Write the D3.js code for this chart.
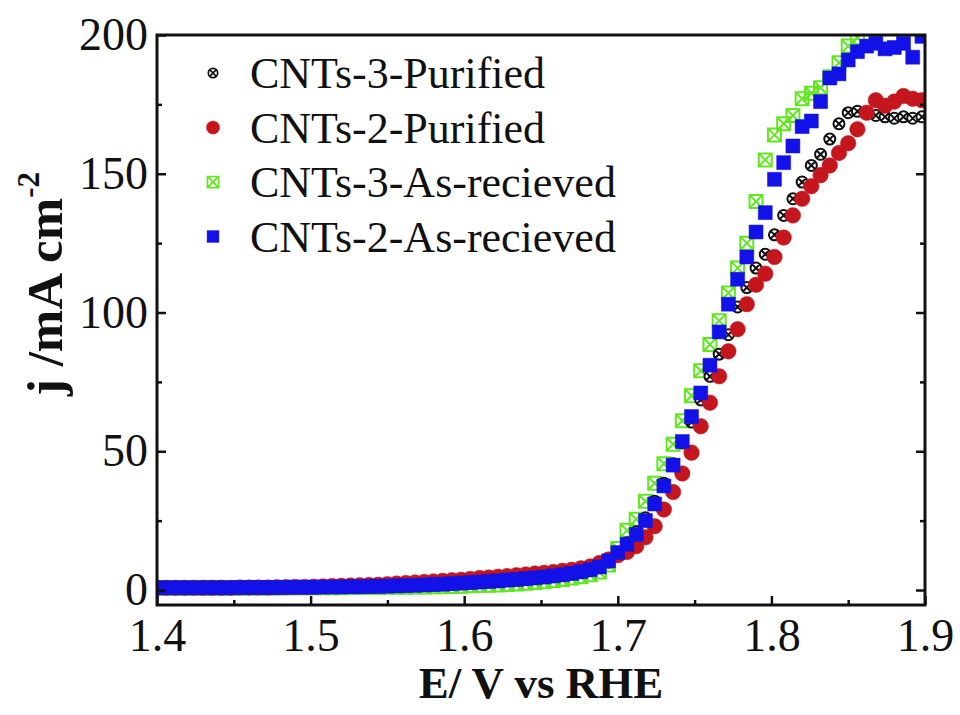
<!DOCTYPE html>
<html lang="en">
<head>
<meta charset="UTF-8" />
<title>LSV CNTs</title>
<style>
  body { margin: 0; background: #fff; }
  svg { display: block; font-family: "Liberation Serif", "Times New Roman", serif; }
</style>
</head>
<body>
<svg id="chart" width="960" height="715"></svg>
<script src="https://d3js.org/d3.v7.min.js"></script>
<script>
// potential grid (V vs RHE)
const potentials = [
  1.400,1.406,1.412,1.418,1.424,1.430,1.436,1.442,1.448,1.454,
  1.460,1.466,1.472,1.478,1.484,1.490,1.496,1.502,1.508,1.514,
  1.520,1.526,1.532,1.538,1.544,1.550,1.556,1.562,1.568,1.574,
  1.580,1.586,1.592,1.598,1.604,1.610,1.616,1.622,1.628,1.634,
  1.640,1.646,1.652,1.658,1.664,1.670,1.676,1.682,1.688,1.694,
  1.700,1.706,1.712,1.718,1.724,1.730,1.736,1.742,1.748,1.754,
  1.760,1.766,1.772,1.778,1.784,1.790,1.796,1.802,1.808,1.814,
  1.820,1.826,1.832,1.838,1.844,1.850,1.856,1.862,1.868,1.874,
  1.880,1.886,1.892,1.898
];

// current density, mA cm-2
const cnts3Purified = [
  0.6,0.6,0.6,0.6,0.6,0.6,0.6,0.6,0.6,0.7,
  0.7,0.7,0.7,0.7,0.8,0.8,0.8,0.8,0.9,0.9,
  0.9,1.0,1.0,1.1,1.1,1.2,1.3,1.4,1.5,1.6,
  1.7,1.8,2.0,2.2,2.4,2.6,2.8,3.0,3.3,3.5,
  3.8,4.1,4.4,4.8,5.2,5.7,6.3,7.0,8,10,
  13,17,21,26,32,38.5,45.5,53,60.5,68.5,
  77,85,92,102,109,116,121,128,135,141,
  147,153,157,162.5,168,172,172.5,172,171,170.5,
  170,170.5,170,170.5
];
const cnts2Purified = [
  0.8,0.8,0.8,0.8,0.8,0.8,0.8,0.8,0.8,0.9,
  0.9,0.9,0.9,1.0,1.0,1.1,1.1,1.2,1.3,1.4,
  1.5,1.6,1.7,1.8,1.9,2.1,2.3,2.5,2.7,2.9,
  3.1,3.3,3.5,3.7,4.0,4.3,4.5,4.8,5.0,5.3,
  5.6,5.9,6.2,6.5,6.9,7.3,7.8,8.5,9.7,11,
  12.5,13.7,15.8,19,23,29,35.3,42,49.5,59,
  67.5,77,86,94,103,110,114,120,127,135,
  141,145.5,149.5,153,157.5,161,166,172,176.5,174.5,
  176,178,177,176.5
];
const cnts3AsReceived = [
  0.7,0.7,0.7,0.7,0.7,0.7,0.7,0.7,0.7,0.7,
  0.7,0.7,0.7,0.7,0.8,0.8,0.8,0.8,0.8,0.8,
  0.8,0.9,0.9,0.9,0.9,1.0,1.0,1.0,1.1,1.1,
  1.2,1.2,1.3,1.4,1.5,1.6,1.7,1.8,2.0,2.2,
  2.4,2.7,3.0,3.4,3.8,4.3,4.8,5.5,6.5,9,
  15,21.5,25.5,32,38.5,45.5,52.5,61,70,79,
  88.5,97,107,116,125,140,155,164,168,171,
  177,179,181,185,190,196,199,203,205,206,
  207,208,208,209
];
const cnts2AsReceived = [
  0.8,0.8,0.8,0.8,0.8,0.8,0.8,0.8,0.8,0.9,
  0.9,0.9,0.9,0.9,1.0,1.0,1.0,1.0,1.1,1.1,
  1.1,1.2,1.2,1.3,1.3,1.4,1.5,1.6,1.7,1.8,
  2.0,2.1,2.3,2.5,2.7,2.9,3.1,3.3,3.6,3.8,
  4.1,4.4,4.7,5.1,5.5,6.0,6.6,7.3,8.3,10.5,
  13.5,16.5,20,25,31,37.5,45,53.5,62.5,71,
  81,93,103,112,120,129,136,148,154,160,
  167,169,176,184.5,186,191,194,196,197,195,
  195.5,197,192,199.5
];

const seriesNames = ['CNTs-3-Purified', 'CNTs-2-Purified', 'CNTs-3-As-recieved', 'CNTs-2-As-recieved'];
const xTicks = [1.4, 1.5, 1.6, 1.7, 1.8, 1.9];
const xMinor = [1.45, 1.55, 1.65, 1.75, 1.85];
const yTicks = [0, 50, 100, 150, 200];
const yMinor = [25, 75, 125, 175];

const svg = d3.select('#chart');
const x = d3.scaleLinear().domain([1.4, 1.9]).range([157, 925]);
const y = d3.scaleLinear().domain([-5.4, 200]).range([605, 35]);

// marker shapes
const markers = {
  'CNTs-3-Purified': { path: 'M5.5,0A5.5,5.5 0 1,1 -5.5,0A5.5,5.5 0 1,1 5.5,0Z M-3.9,-3.9L3.9,3.9 M3.9,-3.9L-3.9,3.9', fill: '#fff', stroke: '#111', sw: 2 },
  'CNTs-2-Purified': { path: d3.symbol(d3.symbolCircle, 190)(), fill: '#c4161c', stroke: '#c4161c', sw: 0.5 },
  'CNTs-3-As-recieved': { path: 'M-6.5,-6.5H6.5V6.5H-6.5Z M-6.5,-6.5L6.5,6.5 M6.5,-6.5L-6.5,6.5', fill: 'none', stroke: '#62e61f', sw: 2 },
  'CNTs-2-As-recieved': { path: 'M-7,-7H7V7H-7Z', fill: '#1212e8', stroke: '#1212e8', sw: 0.5 }
};

const seriesData = {
  'CNTs-3-Purified': cnts3Purified,
  'CNTs-2-Purified': cnts2Purified,
  'CNTs-3-As-recieved': cnts3AsReceived,
  'CNTs-2-As-recieved': cnts2AsReceived
};

svg.append('clipPath').attr('id', 'plot-clip')
  .append('rect')
  .attr('x', x.range()[0]).attr('y', y.range()[1])
  .attr('width', x.range()[1] - x.range()[0])
  .attr('height', y.range()[0] - y.range()[1]);

const plot = svg.append('g').attr('clip-path', 'url(#plot-clip)');

// drawing order: green behind, blue on top
['CNTs-3-As-recieved', 'CNTs-3-Purified', 'CNTs-2-Purified', 'CNTs-2-As-recieved'].forEach(name => {
  const m = markers[name];
  plot.append('g')
    .selectAll('path')
    .data(potentials.map((v, i) => [v, seriesData[name][i]]))
    .join('path')
    .attr('transform', d => `translate(${x(d[0])},${y(d[1])})`)
    .attr('d', m.path)
    .attr('fill', m.fill)
    .attr('stroke', m.stroke)
    .attr('stroke-width', m.sw);
});

// axes
const tickFont = g => g.selectAll('text')
  .attr('font-size', 46)
  .attr('font-family', '"Liberation Serif", "Times New Roman", serif')
  .attr('fill', '#111');

svg.append('g').attr('transform', `translate(0,${y.range()[0]})`)
  .call(d3.axisBottom(x).tickValues(xTicks).tickFormat(d3.format('.1f')).tickSize(-9).tickPadding(13))
  .call(tickFont);
svg.append('g').attr('transform', `translate(0,${y.range()[0]})`)
  .call(d3.axisBottom(x).tickValues(xMinor).tickFormat('').tickSize(-5));

svg.append('g').attr('transform', `translate(${x.range()[0]},0)`)
  .call(d3.axisLeft(y).tickValues(yTicks).tickSize(-9).tickPadding(9))
  .call(tickFont);
svg.append('g').attr('transform', `translate(${x.range()[0]},0)`)
  .call(d3.axisLeft(y).tickValues(yMinor).tickFormat('').tickSize(-5));

svg.append('g').attr('transform', `translate(${x.range()[1]},0)`)
  .call(d3.axisRight(y).tickValues(yTicks).tickFormat('').tickSize(-9));
svg.append('g').attr('transform', `translate(${x.range()[1]},0)`)
  .call(d3.axisRight(y).tickValues(yMinor).tickFormat('').tickSize(-5));

svg.selectAll('.domain').remove();
svg.selectAll('.tick line').attr('stroke', '#111').attr('stroke-width', 2.5);

svg.append('rect')
  .attr('x', x.range()[0]).attr('y', y.range()[1])
  .attr('width', x.range()[1] - x.range()[0])
  .attr('height', y.range()[0] - y.range()[1])
  .attr('fill', 'none').attr('stroke', '#111').attr('stroke-width', 3);

// axis titles
svg.append('text')
  .attr('x', 541)
  .attr('y', 698)
  .attr('text-anchor', 'middle')
  .attr('font-size', 45).attr('font-weight', 'bold')
  .attr('fill', '#111')
  .text('E/ V vs RHE');

const yTitle = svg.append('text')
  .attr('transform', 'translate(62,284) rotate(-90)')
  .attr('text-anchor', 'middle')
  .attr('font-size', 51).attr('font-weight', 'bold')
  .attr('fill', '#111');
yTitle.append('tspan').text('j /mA cm');
yTitle.append('tspan').attr('font-size', 31).attr('dy', -23).text('-2');

// legend
const legend = svg.append('g');
seriesNames.forEach((name, i) => {
  const m = markers[name];
  const row = legend.append('g').attr('transform', `translate(213,${73 + i * 54.5})`);
  row.append('path')
    .attr('d', m.path)
    .attr('transform', i === 0 ? 'scale(0.85)' : 'scale(0.85)')
    .attr('fill', m.fill)
    .attr('stroke', m.stroke)
    .attr('stroke-width', m.sw);
  row.append('text')
    .attr('x', 37).attr('y', 15)
    .attr('font-size', 44)
    .attr('fill', '#111')
    .text(name);
});
</script>
</body>
</html>
